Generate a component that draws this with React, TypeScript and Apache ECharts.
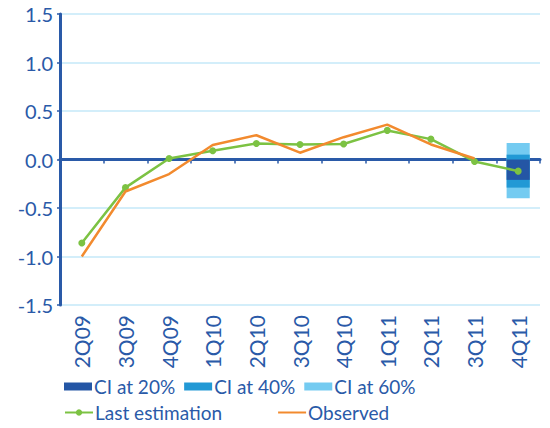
import React, { useEffect, useRef } from "react";
import * as echarts from "echarts";

const categories = ["2Q09", "3Q09", "4Q09", "1Q10", "2Q10", "3Q10", "4Q10", "1Q11", "2Q11", "3Q11", "4Q11"];
const lastEstimation = [-0.86, -0.29, 0.01, 0.09, 0.165, 0.155, 0.16, 0.3, 0.21, -0.02, -0.12];
const observed = [-1.0, -0.33, -0.15, 0.15, 0.25, 0.07, 0.23, 0.36, 0.155, 0.01, null];
// [category index of 4Q11, low, high]
const ci60 = [[10, -0.4, 0.17]];
const ci40 = [[10, -0.29, 0.05]];
const ci20 = [[10, -0.21, 0.0]];
const yTicks = [-1.5, 1.5, 0.5];

const BLUE = "#2a5aa8";
const FONT = "Lato";

function ciSeries(name: string, data: any[], color: string, z: number) {
  return {
    name,
    type: "custom",
    z,
    itemStyle: { color },
    encode: { x: 0, y: [1, 2] },
    data,
    renderItem: (params: any, api: any) => {
      const idx = api.value(0);
      const lo = api.coord([idx, api.value(1)]);
      const hi = api.coord([idx, api.value(2)]);
      const w = api.size([1, 0])[0] * 0.53;
      return {
        type: "rect",
        shape: { x: lo[0] - w / 2, y: hi[1], width: w, height: lo[1] - hi[1] },
        style: { fill: color },
      };
    },
  };
}

export default function App() {
  const ref = useRef<HTMLDivElement>(null);
  useEffect(() => {
    const chart = echarts.init(ref.current!, null, { renderer: "svg" });
    chart.setOption({
      animation: false,
      grid: { left: 60, right: 10, top: 14, bottom: 123 },
      legend: [
        {
          left: 59,
          top: 372,
          itemWidth: 28,
          itemHeight: 8,
          itemGap: 9,
          icon: "rect",
          data: ["CI at 20%", "CI at 40%", "CI at 60%"],
          textStyle: { color: BLUE, fontSize: 19, fontFamily: FONT, padding: [0, 0, 0, -3] },
        },
        {
          left: 59,
          top: 398,
          itemWidth: 28,
          itemHeight: 8,
          itemGap: 55,
          data: [
            { name: "Last estimation" },
            { name: "Observed", itemStyle: { opacity: 0 } },
          ],
          textStyle: { color: BLUE, fontSize: 19, fontFamily: FONT, padding: [0, 0, 0, -3] },
        },
      ],
      xAxis: [
        {
          type: "category",
          data: categories,
          position: "bottom",
          axisLine: { show: false, onZero: false },
          axisTick: { show: false },
          axisLabel: { rotate: 90, color: BLUE, fontSize: 21, fontFamily: FONT, margin: 10 },
        },
        {
          type: "category",
          data: categories,
          position: "bottom",
          axisLine: { show: true, onZero: true, lineStyle: { color: BLUE, width: 3 } },
          axisTick: { show: true, length: 4, lineStyle: { color: BLUE, width: 1.5 } },
          axisLabel: { show: false },
        },
      ],
      yAxis: {
        type: "value",
        min: yTicks[0],
        max: yTicks[1],
        interval: yTicks[2],
        axisLine: { show: true, lineStyle: { color: BLUE, width: 3 } },
        axisTick: { show: true, length: 3, lineStyle: { color: BLUE, width: 1.5 } },
        splitLine: { lineStyle: { color: "#c4e8f8", width: 1.5 } },
        axisLabel: {
          color: BLUE,
          fontSize: 20,
          fontFamily: FONT,
          margin: 7,
          formatter: (v: number) => v.toFixed(1),
        },
      },
      series: [
        ciSeries("CI at 60%", ci60, "#74cbf1", 1),
        ciSeries("CI at 40%", ci40, "#2299d5", 1),
        ciSeries("CI at 20%", ci20, "#2456a5", 1),
        {
          name: "Last estimation",
          type: "line",
          data: lastEstimation,
          symbol: "circle",
          symbolSize: 7,
          z: 3,
          lineStyle: { color: "#7cc243", width: 2.5 },
          itemStyle: { color: "#7cc243" },
        },
        {
          name: "Observed",
          type: "line",
          data: observed,
          symbol: "none",
          z: 4,
          lineStyle: { color: "#f28a2e", width: 2.5 },
          itemStyle: { color: "#f28a2e" },
        },
      ],
    });
    return () => chart.dispose();
  }, []);
  return <div ref={ref} style={{ width: 550, height: 428, position: "absolute", left: 0, top: 0 }} />;
}
